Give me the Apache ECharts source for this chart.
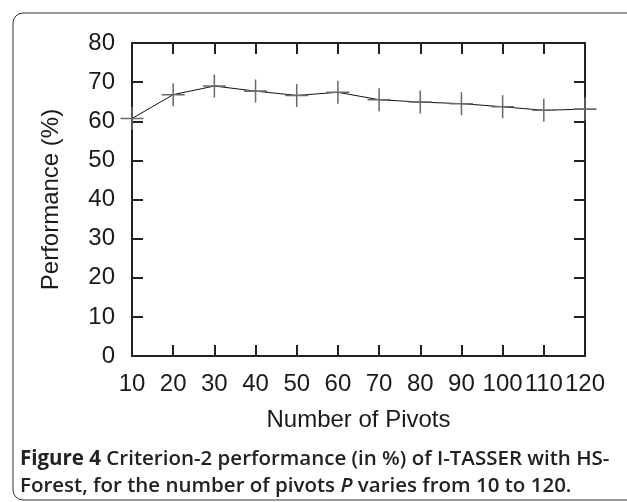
<!DOCTYPE html>
<html>
    <head>
        <meta charset="utf-8">
        <script src="https://cdn.jsdelivr.net/npm/echarts@6/dist/echarts.min.js"></script>
        <style>
            body { margin: 0; background: #fff; }
            #chart { width: 627px; height: 502px; }
        </style>
    </head>
    <body>
        <div id="chart"></div>
        <script type="text/javascript">

            const pivots = [10, 20, 30, 40, 50, 60, 70, 80, 90, 100, 110, 120];
            const performance = [60.7, 66.8, 69.0, 67.7, 66.6, 67.4, 65.5, 64.9, 64.5, 63.7, 62.8, 63.1];
            const yTicks = [0, 10, 20, 30, 40, 50, 60, 70, 80];

            const points = pivots.map((p, i) => [p, performance[i]]);

            const myChart = echarts.init(document.getElementById("chart"));

            const frame = { show: true, onZero: false, lineStyle: { color: '#222', width: 2 } };
            const inTick = { show: true, inside: true, length: 11, lineStyle: { color: '#222', width: 2 } };
            const tickFont = { fontFamily: 'Liberation Sans', fontSize: 24, color: '#1a1a1a' };

            const option = {
                animation: false,
                grid: { left: 132, right: 42, top: 43, bottom: 146 },
                xAxis: [{
                    type: 'value',
                    min: 10, max: 120, interval: 10,
                    axisLine: frame,
                    axisTick: inTick,
                    splitLine: { show: false },
                    axisLabel: Object.assign({ margin: 16 }, tickFont),
                    name: 'Number of Pivots',
                    nameLocation: 'middle',
                    nameGap: 52,
                    nameTextStyle: tickFont
                }, {
                    type: 'value', position: 'top',
                    min: 10, max: 120, interval: 10,
                    axisLine: frame,
                    axisTick: inTick,
                    splitLine: { show: false },
                    axisLabel: { show: false }
                }],
                yAxis: [{
                    type: 'value',
                    min: yTicks[0], max: yTicks[yTicks.length - 1], interval: 10,
                    axisLine: frame,
                    axisTick: inTick,
                    splitLine: { show: false },
                    axisLabel: Object.assign({ margin: 17 }, tickFont),
                    name: 'Performance (%)',
                    nameLocation: 'middle',
                    nameGap: 69,
                    nameTextStyle: tickFont
                }, {
                    type: 'value', position: 'right',
                    min: 0, max: 80, interval: 10,
                    axisLine: frame,
                    axisTick: inTick,
                    splitLine: { show: false },
                    axisLabel: { show: false }
                }],
                graphic: [{
                    type: 'rect',
                    shape: { x: 13, y: 13, width: 700, height: 487, r: 10 },
                    style: { fill: 'none', stroke: '#333', lineWidth: 1 },
                    silent: true
                }, {
                    type: 'text',
                    left: 20, top: 446,
                    style: {
                        text: '{b|Figure 4} Criterion-2 performance (in %) of I-TASSER with HS-\nForest, for the number of pivots {i|P} varies from 10 to 120.',
                        fontFamily: 'Open Sans',
                        fontWeight: 600,
                        fontSize: 20.5,
                        lineHeight: 27,
                        fill: '#222',
                        rich: {
                            b: { fontFamily: 'Open Sans', fontWeight: 'bold', fontSize: 20.5, fill: '#222' },
                            i: { fontFamily: 'Open Sans', fontWeight: 600, fontStyle: 'italic', fontSize: 20.5, fill: '#222' }
                        }
                    }
                }],
                series: [{
                    type: 'line',
                    data: points,
                    clip: false,
                    lineStyle: { color: '#111', width: 1 },
                    symbol: 'path://M-0.8,-12L0.8,-12L0.8,-0.8L12,-0.8L12,0.8L0.8,0.8L0.8,12L-0.8,12L-0.8,0.8L-12,0.8L-12,-0.8L-0.8,-0.8Z',
                    symbolSize: 23,
                    itemStyle: { color: '#6a6a6a' }
                }]
            };

            myChart.setOption(option);

        </script>
    </body>
</html>
